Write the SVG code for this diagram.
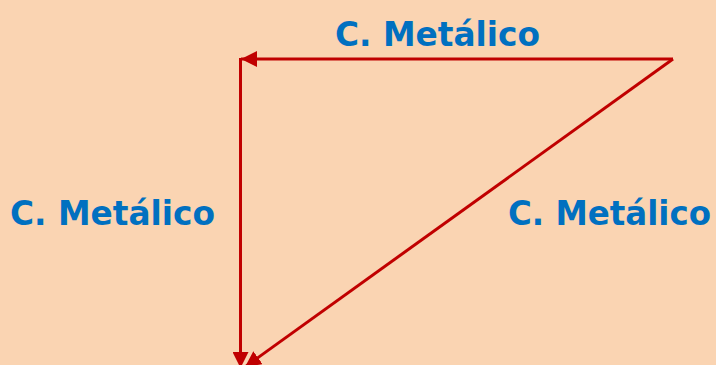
<svg xmlns="http://www.w3.org/2000/svg" width="716" height="365" viewBox="0 0 716 365">
  <defs>
    <marker id="arr" viewBox="0 0 10 10" refX="10" refY="5" markerWidth="16" markerHeight="16" markerUnits="userSpaceOnUse" orient="auto">
      <path d="M0,0 L10,5 L0,10 z" fill="#C00000"/>
    </marker>
    <style>
      .lbl { font-family: "Comic Sans MS", "DejaVu Sans", sans-serif; font-weight: bold; font-size: 33px; fill: #0070C0; }
      .conn { stroke: #C00000; stroke-width: 3; fill: none; marker-end: url(#arr); }
    </style>
  </defs>
  <rect width="716" height="365" fill="#FAD4B2"/>
  <g id="connectors">
    <line class="conn" x1="673" y1="59" x2="241" y2="59"/>
    <line class="conn" x1="240.5" y1="58" x2="240.5" y2="368"/>
    <line class="conn" x1="673" y1="59" x2="245" y2="367"/>
  </g>
  <g id="label-top">
    <text class="lbl" x="335" y="46" textLength="205" lengthAdjust="spacingAndGlyphs">C. Metálico</text>
  </g>
  <g id="label-left">
    <text class="lbl" x="10" y="225" textLength="205" lengthAdjust="spacingAndGlyphs">C. Metálico</text>
  </g>
  <g id="label-right">
    <text class="lbl" x="508" y="225" textLength="203" lengthAdjust="spacingAndGlyphs">C. Metálico</text>
  </g>
</svg>
